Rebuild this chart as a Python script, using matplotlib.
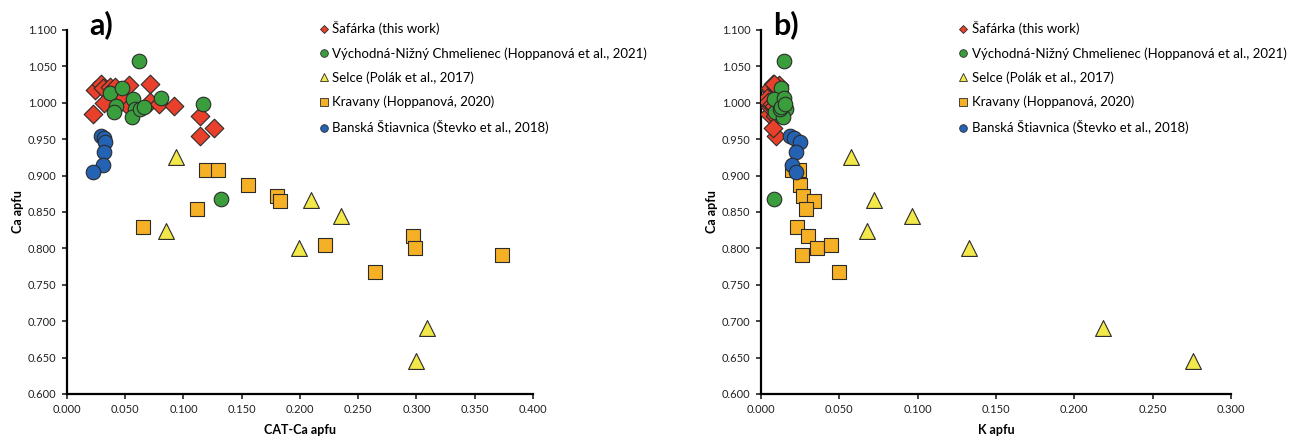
import matplotlib
matplotlib.use("Agg")
import matplotlib.pyplot as plt
from matplotlib.lines import Line2D
from matplotlib.ticker import MultipleLocator, FormatStrFormatter

plt.rcParams['font.family'] = ['Lato', 'DejaVu Sans']

# Šafárka (this work)
saf_ca = [0.984, 1.017, 1.026, 1.020, 1.000, 1.022, 1.022, 1.006, 1.025,
          0.994, 1.026, 1.001, 0.999, 0.995, 0.982, 0.955, 0.965]
saf_cat = [0.0223, 0.0237, 0.029, 0.031, 0.032, 0.037, 0.041, 0.047, 0.053,
           0.053, 0.071, 0.071, 0.079, 0.092, 0.114, 0.114, 0.126]
saf_k = [0.005, 0.006, 0.0075, 0.006, 0.005, 0.0095, 0.011, 0.004, 0.0115,
         0.006, 0.008, 0.0045, 0.007, 0.0085, 0.009, 0.0096, 0.0074]

# Východná-Nižný Chmelienec
vnc_ca = [1.057, 1.014, 1.020, 0.996, 0.988, 1.005, 0.992, 0.980, 0.992,
          0.994, 1.007, 0.998, 0.868]
vnc_cat = [0.0615, 0.0366, 0.047, 0.042, 0.0406, 0.0567, 0.058, 0.056, 0.063,
           0.066, 0.081, 0.117, 0.132]
vnc_k = [0.0145, 0.0125, 0.013, 0.0115, 0.009, 0.0085, 0.016, 0.0138, 0.012,
         0.013, 0.015, 0.0155, 0.0085]

# Selce
sel_ca = [0.925, 0.824, 0.867, 0.845, 0.801, 0.690, 0.645]
sel_cat = [0.094, 0.085, 0.2096, 0.235, 0.199, 0.309, 0.300]
sel_k = [0.0575, 0.0674, 0.0723, 0.0966, 0.1327, 0.218, 0.2757]

# Kravany
kra_ca = [0.908, 0.908, 0.887, 0.872, 0.865, 0.854, 0.830, 0.817, 0.801,
          0.805, 0.791, 0.768]
kra_cat = [0.119, 0.130, 0.155, 0.180, 0.1825, 0.112, 0.065, 0.2974, 0.299,
           0.2215, 0.373, 0.2645]
kra_k = [0.020, 0.024, 0.025, 0.027, 0.034, 0.029, 0.023, 0.0298, 0.036,
         0.0447, 0.026, 0.050]

# Banská Štiavnica
bs_ca = [0.954, 0.952, 0.946, 0.933, 0.915, 0.905]
bs_cat = [0.0295, 0.032, 0.033, 0.032, 0.031, 0.022]
bs_k = [0.0187, 0.021, 0.025, 0.0223, 0.020, 0.0223]

labels = ["Šafárka (this work)",
          "Východná-Nižný Chmelienec (Hoppanová et al., 2021)",
          "Selce (Polák et al., 2017)",
          "Kravany (Hoppanová, 2020)",
          "Banská Štiavnica (Števko et al., 2018)"]
colors = ["#e8402a", "#3a9e3c", "#f2e84a", "#f5b025", "#2462b4"]
markers = ["D", "o", "^", "s", "o"]
sizes = [90, 110, 130, 105, 110]
edge = "#2b2b2b"

fig = plt.figure(figsize=(13.08, 4.41), dpi=100)
ax1 = fig.add_axes([0.0512, 0.1066, 0.3563, 0.8254])
ax2 = fig.add_axes([0.5818, 0.1066, 0.3593, 0.8254])

sets_a = [(saf_cat, saf_ca), (vnc_cat, vnc_ca), (sel_cat, sel_ca),
          (kra_cat, kra_ca), (bs_cat, bs_ca)]
sets_b = [(saf_k, saf_ca), (vnc_k, vnc_ca), (sel_k, sel_ca),
          (kra_k, kra_ca), (bs_k, bs_ca)]

def draw(ax, sets, xmax, xlabel, tag, tagx, legx):
    for (x, y), c, m, s in zip(sets, colors, markers, sizes):
        ax.scatter(x, y, s=s, c=c, marker=m, edgecolors=edge, linewidths=0.8, zorder=3)
    ax.set_xlim(0, xmax)
    ax.set_ylim(0.6, 1.1)
    ax.xaxis.set_major_locator(MultipleLocator(0.05))
    ax.yaxis.set_major_locator(MultipleLocator(0.05))
    ax.xaxis.set_major_formatter(FormatStrFormatter("%.3f"))
    ax.yaxis.set_major_formatter(FormatStrFormatter("%.3f"))
    for sp in ["top", "right"]:
        ax.spines[sp].set_visible(False)
    for sp in ["left", "bottom"]:
        ax.spines[sp].set_linewidth(1.6)
        ax.spines[sp].set_color("black")
    ax.tick_params(direction="out", length=3.5, width=1.2, pad=4, labelsize=8, colors="#222222")
    ax.set_xlabel(xlabel, fontsize=9, fontweight="bold", labelpad=6)
    ax.set_ylabel("Ca apfu", fontsize=9, fontweight="bold", labelpad=3)
    fig.text(tagx, 0.912, tag, fontsize=22, fontweight="bold", ha="left", va="bottom")
    handles = [Line2D([], [], linestyle="none", marker=m, markerfacecolor=c,
                      markeredgecolor=edge, markeredgewidth=0.6,
                      markersize=(4.5 if m == "D" else 5.5))
               for c, m in zip(colors, markers)]
    ax.legend(handles, labels, loc="upper left", bbox_to_anchor=(legx, 0.952),
              bbox_transform=fig.transFigure, frameon=False, fontsize=9.5,
              handlelength=0.6, handletextpad=0.35, labelspacing=0.9,
              borderpad=0, borderaxespad=0)

draw(ax1, sets_a, 0.4, "CAT-Ca apfu", "a)", 0.068, 0.2445)
draw(ax2, sets_b, 0.3, "K apfu", "b)", 0.591, 0.7335)

fig.savefig("out.png", dpi=100)
